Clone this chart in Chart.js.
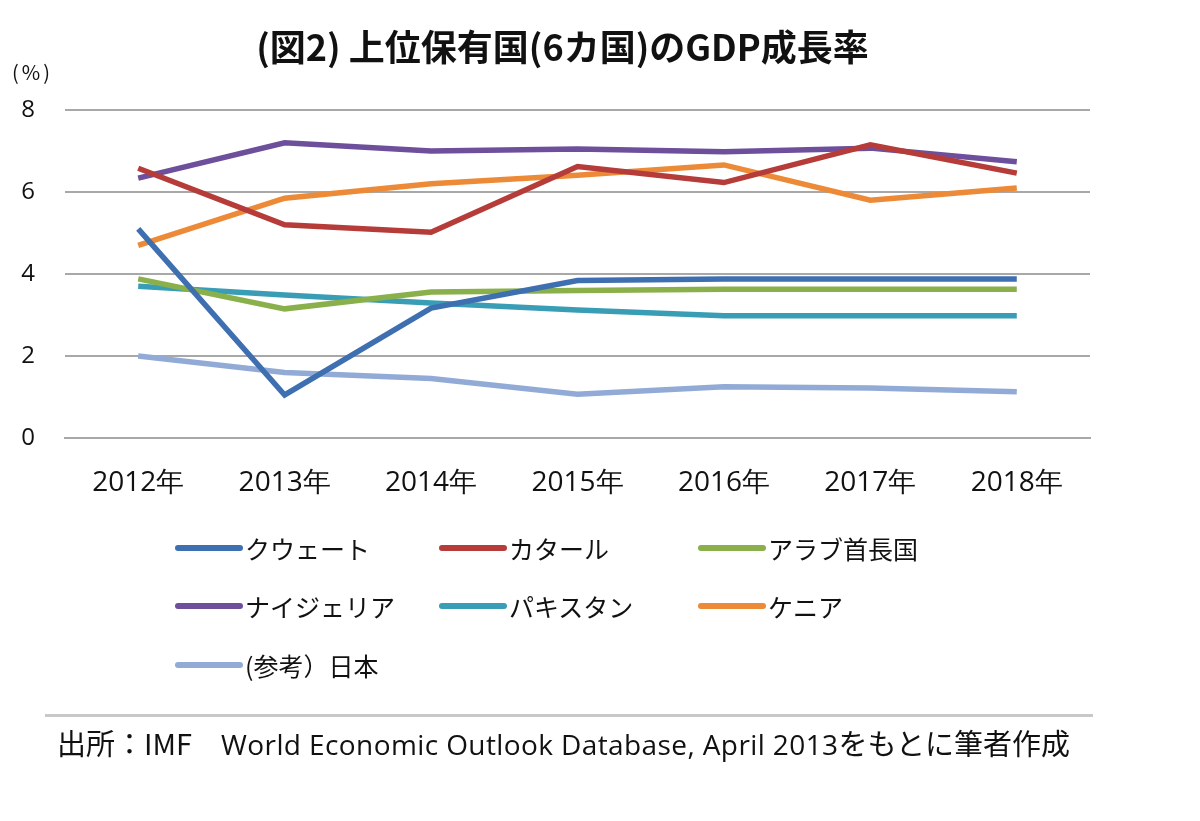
<!DOCTYPE html>
<html>
<head>
<meta charset="utf-8">
<script src="https://cdn.jsdelivr.net/npm/chart.js@4"></script>
<style>
  body { margin: 0; background: #fff; }
  #wrap { position: relative; width: 1200px; height: 821px; overflow: hidden; }
  #chart { position: absolute; left: 0; top: 0; }
  .txt { position: absolute; font-family: "Noto Sans CJK JP", sans-serif; color: #111; white-space: nowrap; }
  #title { left: 0; width: 1125px; top: 19px; text-align: center; font-size: 36px; font-weight: bold; }
  #unit { left: 12px; top: 57px; font-size: 20px; letter-spacing: 3px; }
  #legend { position: absolute; left: 175px; top: 530px; }
  .item { position: absolute; display: flex; align-items: center; font-family: "Noto Sans CJK JP", sans-serif; font-size: 25px; color: #111; white-space: nowrap; }
  .swatch { width: 68px; height: 6px; border-radius: 3px; margin-right: 2px; }
  #rule { position: absolute; left: 45px; top: 714px; width: 1048px; height: 3px; background: #c8c8c8; }
  #source { left: 57px; top: 721px; font-size: 29px; }
  #source .en { font-family: "Open Sans", sans-serif; font-size: 28px; letter-spacing: 0.4px; }
</style>
</head>
<body>
<div id="wrap">
  <canvas id="chart" width="1200" height="821"></canvas>
  <div id="title" class="txt">(図2) 上位保有国(6カ国)のGDP成長率</div>
  <div id="unit" class="txt">(%)</div>
  <div id="legend"></div>
  <div id="rule"></div>
  <div id="source" class="txt">出所：IMF　<span class="en">World Economic Outlook Database, April 2013</span>をもとに筆者作成</div>
</div>
<script>
const years = ["2012年", "2013年", "2014年", "2015年", "2016年", "2017年", "2018年"];
const yTicks = [0, 2, 4, 6, 8];

const kuwait   = [5.10, 1.05, 3.17, 3.84, 3.88, 3.88, 3.88];
const qatar    = [6.58, 5.20, 5.02, 6.62, 6.23, 7.15, 6.46];
const uae      = [3.88, 3.15, 3.56, 3.60, 3.63, 3.63, 3.63];
const nigeria  = [6.34, 7.20, 7.00, 7.05, 6.98, 7.07, 6.74];
const pakistan = [3.70, 3.49, 3.29, 3.12, 2.98, 2.98, 2.98];
const kenya    = [4.70, 5.85, 6.20, 6.41, 6.66, 5.80, 6.10];
const japan    = [2.00, 1.60, 1.45, 1.07, 1.25, 1.22, 1.13];

const seriesNames = ["クウェート", "カタール", "アラブ首長国", "ナイジェリア", "パキスタン", "ケニア", "(参考）日本"];
const seriesData = [kuwait, qatar, uae, nigeria, pakistan, kenya, japan];
const seriesColors = ["#3e6fb0", "#b53c39", "#89b04b", "#6d4f9b", "#3a9db6", "#ec8a37", "#91abd6"];

const datasets = seriesNames.map((name, i) => ({
  label: name,
  data: seriesData[i],
  borderColor: seriesColors[i],
  backgroundColor: seriesColors[i],
  borderWidth: 5.5,
  pointRadius: 0,
  tension: 0,
  fill: false
}));

// legend: 3 columns
const legendCols = [0, 264, 523];
const legendRows = [0, 58, 117];
const legend = document.getElementById("legend");
seriesNames.forEach((name, i) => {
  const item = document.createElement("div");
  item.className = "item";
  item.style.left = legendCols[i % 3] + "px";
  item.style.top = legendRows[Math.floor(i / 3)] + "px";
  item.innerHTML = '<span class="swatch" style="background:' + seriesColors[i] + '"></span>' + name;
  legend.appendChild(item);
});

const gridColor = "#a8a8a8";

new Chart(document.getElementById("chart").getContext("2d"), {
  type: "line",
  data: { labels: years, datasets: datasets },
  options: {
    responsive: false,
    animation: false,
    layout: { padding: { top: 110, right: 110, bottom: 0, left: 0 } },
    plugins: { legend: { display: false }, title: { display: false }, tooltip: { enabled: false } },
    scales: {
      x: {
        offset: true,
        grid: { display: false, drawTicks: false },
        border: { display: true, color: gridColor, width: 2 },
        ticks: { padding: 28, color: "#111", font: { family: "Open Sans", size: 28 } },
        afterFit: (s) => { s.height = 383; }
      },
      y: {
        min: 0,
        max: 8,
        afterBuildTicks: (s) => { s.ticks = yTicks.map(v => ({ value: v })); },
        grid: { color: gridColor, lineWidth: 2, drawTicks: false },
        border: { display: false },
        ticks: { padding: 30, color: "#111", font: { family: "Open Sans", size: 24 } },
        afterFit: (s) => { s.width = 65; }
      }
    }
  }
});
</script>
</body>
</html>
